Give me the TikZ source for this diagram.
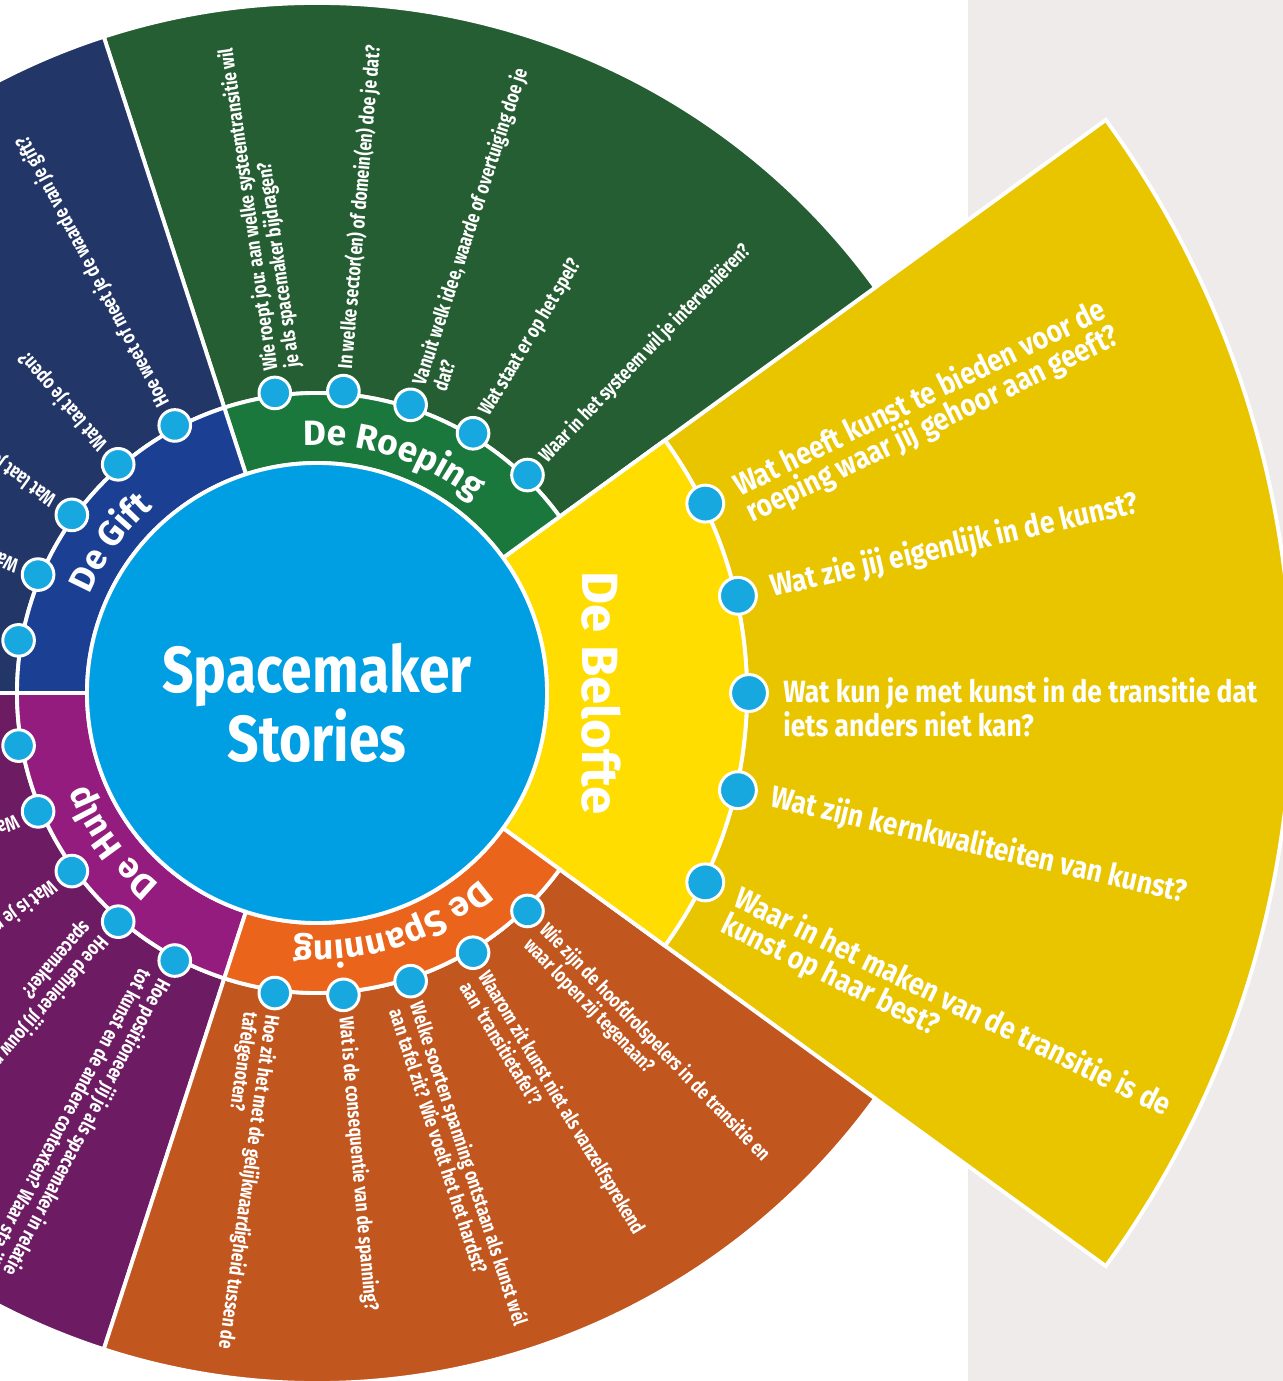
\documentclass[tikz,border=0pt]{standalone}
\usepackage{fontspec}
\setmainfont{Fira Sans}
\newfontfamily\narrowfont{Fira Sans}[FakeStretch=0.78]
\newfontfamily\bigfont{Fira Sans}[FakeStretch=0.86]
\newfontfamily\titlefont{Fira Sans}[FakeStretch=0.85]
\definecolor{story_cyan}{HTML}{009FE3}
\definecolor{story_dot}{HTML}{18A8E0}
\definecolor{story_panel}{HTML}{EFEBEA}
\definecolor{story_yellow}{HTML}{FFDD00}
\definecolor{story_yellow_dark}{HTML}{E9C500}
\definecolor{story_green}{HTML}{1B783D}
\definecolor{story_green_dark}{HTML}{265E33}
\definecolor{story_blue}{HTML}{1B4093}
\definecolor{story_blue_dark}{HTML}{233668}
\definecolor{story_purple}{HTML}{931C7E}
\definecolor{story_purple_dark}{HTML}{6D1C64}
\definecolor{story_orange}{HTML}{EA641B}
\definecolor{story_orange_dark}{HTML}{C1561F}
\usepackage{tikz}
\usetikzlibrary{calc, decorations.text}

\begin{document}
\begin{tikzpicture}[x=0.02cm, y=0.02cm,
      sector/.style={draw=white, line width=2.2pt},
      dot/.style={circle, draw=white, line width=1.7pt, fill=story_dot,
                  minimum size=18pt, inner sep=0pt},
      bigdot/.style={dot, minimum size=21pt},
      qtxt/.style={text=white, align=left, anchor=west, inner sep=0pt,
                   font=\narrowfont\bfseries\fontsize{11.5}{12.5}\selectfont},
      qbig/.style={text=white, align=left, anchor=west, inner sep=0pt,
                   font=\bigfont\bfseries\fontsize{17.5}{16.5}\selectfont},
      ringlbl/.style={decorate, decoration={text along path, text align=center,
                   text color=white, text={|\bfseries\fontsize{20}{20}\selectfont|#1}}}]
      \useasboundingbox (-317,-688) rectangle (966,693);
      \clip (-317,-688) rectangle (966,693);
      \fill[white] (-317,-688) rectangle (966,693);
      \fill[story_panel] (651,-688) rectangle (966,693);
      % Outer sectors
      \path[sector, fill=story_yellow_dark] (-36:430) arc[start angle=-36, end angle=36, radius=430]
        -- (36:975) arc[start angle=36, end angle=-36, radius=975] -- cycle;
      \path[sector, fill=story_green_dark] (36:300) arc[start angle=36, end angle=108, radius=300]
        -- (108:690) arc[start angle=108, end angle=36, radius=690] -- cycle;
      \path[sector, fill=story_blue_dark] (108:300) arc[start angle=108, end angle=180, radius=300]
        -- (180:690) arc[start angle=180, end angle=108, radius=690] -- cycle;
      \path[sector, fill=story_purple_dark] (180:300) arc[start angle=180, end angle=252, radius=300]
        -- (252:690) arc[start angle=252, end angle=180, radius=690] -- cycle;
      \path[sector, fill=story_orange_dark] (252:300) arc[start angle=252, end angle=324, radius=300]
        -- (324:690) arc[start angle=324, end angle=252, radius=690] -- cycle;
      % Inner ring
      \path[sector, fill=story_yellow] (-36:230) arc[start angle=-36, end angle=36, radius=230]
        -- (36:430) arc[start angle=36, end angle=-36, radius=430] -- cycle;
      \path[sector, fill=story_green] (36:230) arc[start angle=36, end angle=108, radius=230]
        -- (108:300) arc[start angle=108, end angle=36, radius=300] -- cycle;
      \path[sector, fill=story_blue] (108:230) arc[start angle=108, end angle=180, radius=230]
        -- (180:300) arc[start angle=180, end angle=108, radius=300] -- cycle;
      \path[sector, fill=story_purple] (180:230) arc[start angle=180, end angle=252, radius=230]
        -- (252:300) arc[start angle=252, end angle=180, radius=300] -- cycle;
      \path[sector, fill=story_orange] (252:230) arc[start angle=252, end angle=324, radius=230]
        -- (324:300) arc[start angle=324, end angle=252, radius=300] -- cycle;
      % Centre
      \node[circle, fill=story_cyan, draw=white, line width=2.2pt, minimum size=460*0.02cm,
        inner sep=0pt] (hub) at (0,0) {};
      \node[text=white, align=center, font=\titlefont\bfseries\fontsize{37}{31}\selectfont]
        (title) at (0,-10) {Spacemaker\\Stories};
      % Ring labels
      \path[ringlbl={De Roeping}] (112:248) arc[start angle=112, end angle=32, radius=248];
      \path[ringlbl={De Gift}] (184:248) arc[start angle=184, end angle=104, radius=248];
      \path[ringlbl={De Hulp}] (256:248) arc[start angle=256, end angle=176, radius=248];
      \path[ringlbl={De Spanning}] (328:248) arc[start angle=328, end angle=248, radius=248];
      \node[rotate=-90, anchor=base, text=white, font=\bfseries\fontsize{29}{29}\selectfont]
        (belofte) at (0:265) {De Belofte};
      % Dots
      \foreach \a [count=\i] in {26,13,0,-13,-26}
        \node[bigdot] (yd\i) at (\a:432) {};
      \foreach \a [count=\i] in {98,85,72,59,46}
        \node[dot] (gd\i) at (\a:303) {};
      \foreach \a [count=\i] in {118,131,144,157,170}
        \node[dot] (bd\i) at (\a:303) {};
      \foreach \a [count=\i] in {190,203,216,229,242}
        \node[dot] (pd\i) at (\a:303) {};
      \foreach \a [count=\i] in {262,275,288,301,314}
        \node[dot] (od\i) at (\a:303) {};
      % De Belofte
      \node[qbig, rotate=26] (yq1) at ($(26:466)+(-64:14.5)$)
        {Wat heeft kunst te bieden voor de\\roeping waar jij gehoor aan geeft?};
      \node[qbig, rotate=13] (yq2) at (13:466) {Wat zie jij eigenlijk in de kunst?};
      \node[qbig, rotate=0] (yq3) at ($(0:466)+(-90:14.5)$)
        {Wat kun je met kunst in de transitie dat\\iets anders niet kan?};
      \node[qbig, rotate=-13] (yq4) at (-13:466) {Wat zijn kernkwaliteiten van kunst?};
      \node[qbig, rotate=-26] (yq5) at ($(-26:466)+(-116:14.5)$)
        {Waar in het maken van de transitie is de\\kunst op haar best?};
      % De Roeping
      \node[qtxt, rotate=98] (gq1) at ($(98:325)+(8:11)$)
        {Wie roept jou: aan welke systeemtransitie wil\\je als spacemaker bijdragen?};
      \node[qtxt, rotate=85] (gq2) at (85:325) {In welke sector(en) of domein(en) doe je dat?};
      \node[qtxt, rotate=72] (gq3) at ($(72:325)+(-18:11)$)
        {Vanuit welk idee, waarde of overtuiging doe je\\dat?};
      \node[qtxt, rotate=59] (gq4) at (59:325) {Wat staat er op het spel?};
      \node[qtxt, rotate=46] (gq5) at (46:325) {Waar in het systeem wil je interveniëren?};
      % De Gift
      \node[qtxt, rotate=118] (bq1) at (118:325) {Hoe weet of meet je de waarde van je gift?};
      \node[qtxt, rotate=131] (bq2) at (131:325) {Wat laat je open?};
      \node[qtxt, rotate=144] (bq3) at (144:325) {Wat laat je los?};
      \node[qtxt, rotate=157] (bq4) at (157:325) {Wat geef je?};
      % De Hulp
      \node[qtxt, rotate=203] (pq2) at (203:325) {Wat vraag je?};
      \node[qtxt, rotate=216] (pq3) at (216:325) {Wat is je rol?};
      \node[qtxt, rotate=229] (pq4) at ($(229:325)+(139:11)$)
        {Hoe definieer jij jouw rol als\\spacemaker?};
      \node[qtxt, rotate=242] (pq5) at ($(242:325)+(152:11)$)
        {Hoe positioneer jij je als spacemaker in relatie\\tot kunst en de andere contexten? Waar sta jij?};
      % De Spanning
      \node[qtxt, rotate=262] (oq1) at ($(262:325)+(172:11)$)
        {Hoe zit het met de gelijkwaardigheid tussen de\\tafelgenoten?};
      \node[qtxt, rotate=275] (oq2) at (275:325) {Wat is de consequentie van de spanning?};
      \node[qtxt, rotate=288] (oq3) at ($(288:325)+(198:11)$)
        {Welke soorten spanning ontstaan als kunst wél\\aan tafel zit? Wie voelt het het hardst?};
      \node[qtxt, rotate=301] (oq4) at ($(301:325)+(211:11)$)
        {Waarom zit kunst niet als vanzelfsprekend\\aan ‘transitietafel’?};
      \node[qtxt, rotate=314] (oq5) at ($(314:325)+(224:11)$)
        {Wie zijn de hoofdrolspelers in de transitie en\\waar lopen zij tegenaan?};
\end{tikzpicture}
\end{document}
